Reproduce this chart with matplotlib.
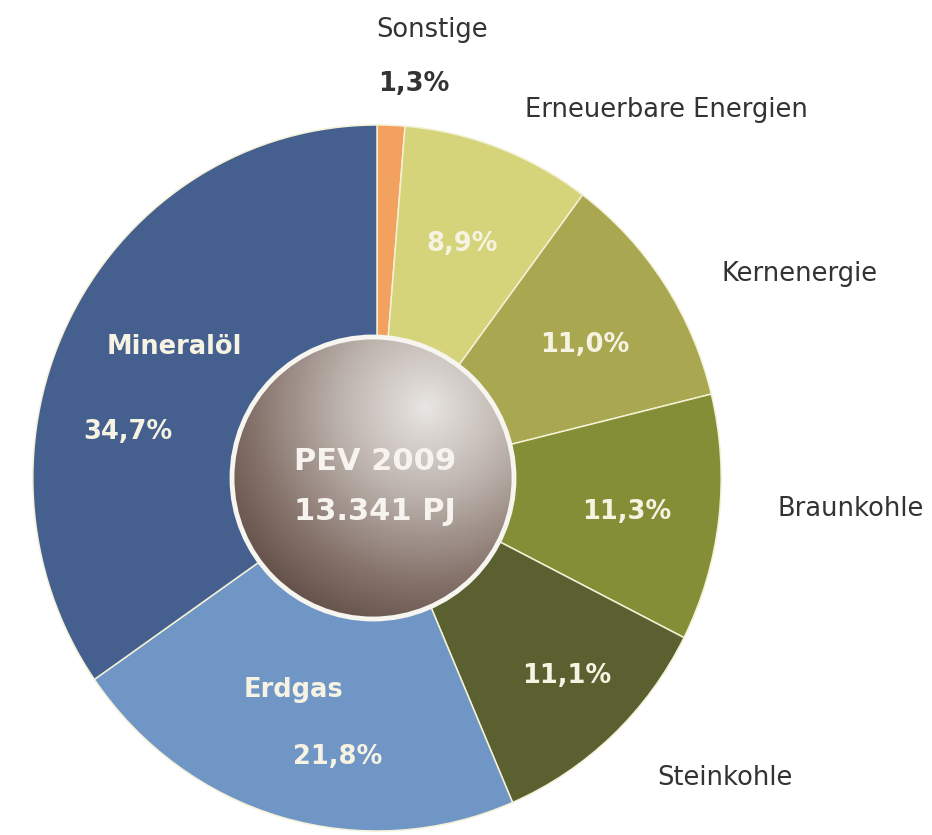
import numpy as np
import matplotlib
matplotlib.use("Agg")
import matplotlib.pyplot as plt
from matplotlib.colors import LinearSegmentedColormap
from matplotlib.patches import Circle
from matplotlib.transforms import Affine2D

# ===== figure size in pixels =====
W, H = 932, 835

# ===== data (clockwise from 12 o'clock) =====
categories = ["Sonstige", "Erneuerbare Energien", "Kernenergie", "Braunkohle",
              "Steinkohle", "Erdgas", "Mineralöl"]
shares = [1.3, 8.9, 11.0, 11.3, 11.1, 21.8, 34.7]
share_labels = ["1,3%", "8,9%", "11,0%", "11,3%", "11,1%", "21,8%", "34,7%"]
center_title = ["PEV 2009", "13.341 PJ"]

# ===== styles =====
colors = ["#f2a25e", "#d5d47b", "#a9a74f", "#848e37", "#5a6030", "#7096c6", "#45608f"]
TXT_IN = "#f7f3e3"
TXT_OUT = "#333333"

fig = plt.figure(figsize=(W / 100, H / 100), dpi=100)
ax = fig.add_axes([0, 0, 1, 1])

# pie (pixel coordinates, y measured from bottom)
cx, cy, r = 377, H - 478, 353
wedges, _ = ax.pie(shares, colors=colors, startangle=90, counterclock=False,
                   center=(cx, cy), radius=r,
                   wedgeprops=dict(edgecolor="#f3f1d6", linewidth=1.1))
ax.set_xlim(0, W)
ax.set_ylim(0, H)
ax.set_aspect("auto")
ax.axis("off")

# the original pie is slightly taller than wide
squeeze = Affine2D().translate(-cx, -cy).scale(0.975, 1).translate(cx, cy)
for w in wedges:
    w.set_transform(squeeze + ax.transData)

# ===== centre disc with shaded gradient =====
ix, iy, ir = 373, H - 478, 141
gy, gx = np.mgrid[-1:1:400j, -1:1:400j]
d = np.hypot(gx - 0.38, gy - 0.5) / 1.75
d = np.clip(d, 0, 1)
cmap = LinearSegmentedColormap.from_list(
    "disc", [(0, "#e8e5e2"), (0.35, "#bdb3ad"), (0.7, "#86746c"), (1, "#5a4840")])
disc = Circle((ix, iy), ir, transform=ax.transData, facecolor="none")
ax.add_patch(disc)
img = ax.imshow(d, cmap=cmap, origin="lower",
                extent=(ix - ir, ix + ir, iy - ir, iy + ir), zorder=3)
img.set_clip_path(disc)
ax.add_patch(Circle((ix, iy), ir, facecolor="none", edgecolor="#f7f5f0",
                    linewidth=3.5, zorder=4))
ax.set_xlim(0, W)
ax.set_ylim(0, H)
ax.set_aspect("auto")

ax.text(375, H - 461, center_title[0], ha="center", va="center", fontsize=22,
        fontweight="bold", color="#f7f3ee", zorder=5)
ax.text(375, H - 511, center_title[1], ha="center", va="center", fontsize=22,
        fontweight="bold", color="#f7f3ee", zorder=5)

# ===== labels =====
inner_name_pos = {"Mineralöl": (174, 347), "Erdgas": (294, 690)}
pct_pos = [(414, 84), (462, 244), (585, 345), (627, 512), (567, 676),
           (338, 757), (128, 432)]
outer_name_pos = {"Sonstige": (432, 30), "Erneuerbare Energien": (666, 110),
                  "Kernenergie": (800, 274), "Braunkohle": (851, 509),
                  "Steinkohle": (725, 778)}

for name, (x, y) in inner_name_pos.items():
    ax.text(x, H - y, name, ha="center", va="center", fontsize=18.5,
            fontweight="bold", color=TXT_IN, zorder=5)

for i, (x, y) in enumerate(pct_pos):
    col = TXT_OUT if i == 0 else TXT_IN
    ax.text(x, H - y, share_labels[i], ha="center", va="center", fontsize=18.5,
            fontweight="bold", color=col, zorder=5)

for name, (x, y) in outer_name_pos.items():
    ax.text(x, H - y, name, ha="center", va="center", fontsize=18.5,
            color=TXT_OUT, zorder=5)

fig.savefig("out.png", dpi=100, facecolor="white")
